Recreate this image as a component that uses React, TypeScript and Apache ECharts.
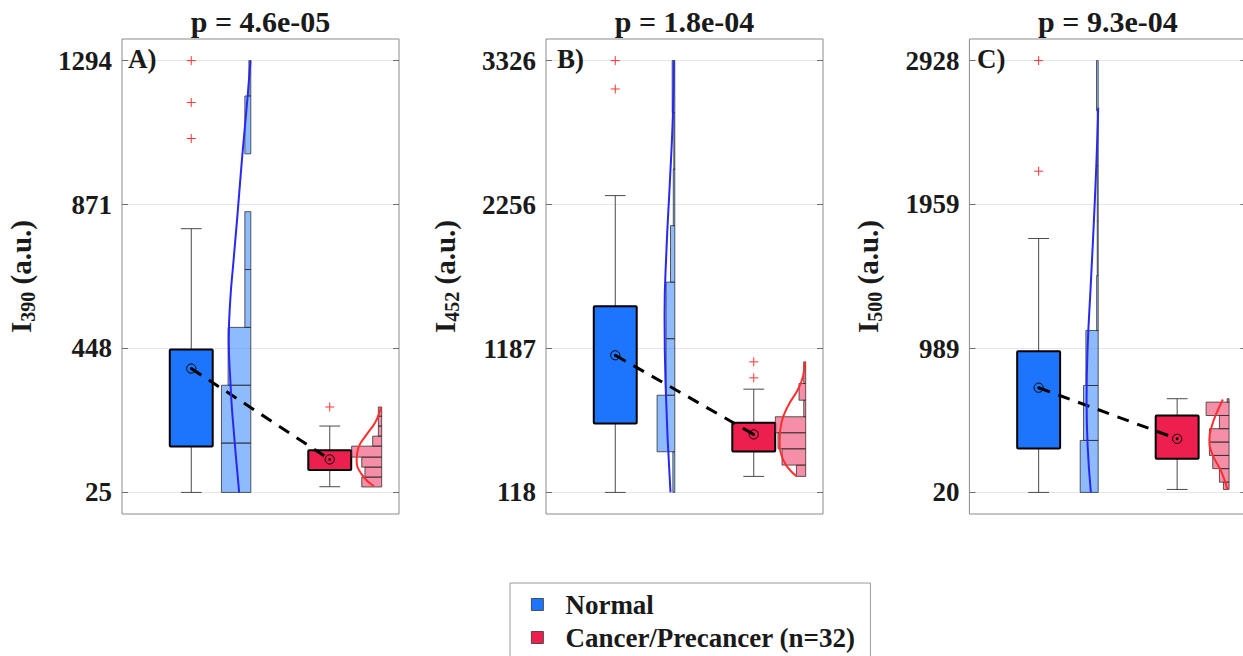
import React, { useEffect, useRef } from 'react';
import * as echarts from 'echarts';

const FONT = '"Liberation Serif", "Times New Roman", Times, serif';

// ---------- data ----------
const groupNames = ['Normal', 'Cancer/Precancer (n=32)'];
const panelLetters = ['A)', 'B)', 'C)'];
const pTitles = ['p = 4.6e-05', 'p = 1.8e-04', 'p = 9.3e-04'];
const wavelengthSubs = ['390', '452', '500'];

const ticksA = [25, 448, 871, 1294];
const ticksB = [118, 1187, 2256, 3326];
const ticksC = [20, 989, 1959, 2928];

// [lower whisker, q1, q3, upper whisker]
const normalStatsA = [25, 160, 445, 800];
const cancerStatsA = [41.7, 90.5, 149, 220];
const normalStatsB = [118, 630, 1501, 2323];
const cancerStatsB = [237, 422, 635, 885];
const normalStatsC = [20, 316, 971, 1730];
const cancerStatsC = [40, 247, 538, 651];

const normalMeans = [389, 1137, 725];
const cancerMeans = [122, 549, 381];

const normalOutliersA = [1065, 1171, 1294];
const cancerOutliersA = [276];
const normalOutliersB = [3115, 3326];
const cancerOutliersB = [969, 1088];
const normalOutliersC = [2183, 2928];
const cancerOutliersC: number[] = [];

// histograms: bin edges (value) and bar lengths (x-axis units)
const normalHistEdgesA = [25, 170, 340, 510, 680, 850, 1020, 1190, 1294];
const normalHistWidthsA = [0.212, 0.212, 0.164, 0.043, 0.043, 0, 0.043, 0.014];
const cancerHistEdgesA = [41, 70, 99.3, 128.7, 161, 190.4, 220, 249, 276];
const cancerHistWidthsA = [0.144, 0.121, 0.144, 0.217, 0.065, 0.024, 0.024, 0.024];
const normalHistEdgesB = [118, 420, 840, 1260, 1680, 2100, 2520, 2940, 3326];
const normalHistWidthsB = [0.014, 0.128, 0.063, 0.063, 0.031, 0.011, 0.007, 0.019];
const cancerHistEdgesB = [237, 321, 442, 561, 680, 803, 927, 1051, 1088];
const cancerHistWidthsB = [0.067, 0.171, 0.2, 0.219, 0.014, 0.048, 0.014, 0.014];
const normalHistEdgesC = [20, 370, 740, 1110, 1480, 1850, 2220, 2590, 2928];
const normalHistWidthsC = [0.13, 0.106, 0.089, 0.011, 0.007, 0.007, 0.007, 0.012];
const cancerHistEdgesC = [40, 89, 180, 269, 359, 449, 538, 628, 651];
const cancerHistWidthsC = [0.041, 0.07, 0.118, 0.142, 0.142, 0.07, 0.166, 0.014];

// density curves: value and curve extent (x-axis units)
const normalCurveValsA = [25, 249, 348, 474, 592, 700, 837, 1003, 1179, 1294];
const normalCurveWidthsA = [0.084, 0.132, 0.147, 0.159, 0.148, 0.126, 0.097, 0.064, 0.025, 0.002];
const cancerCurveValsA = [43.5, 77.9, 122, 156.3, 195.4, 229.7, 259, 275.6];
const cancerCurveWidthsA = [0.056, 0.144, 0.181, 0.168, 0.108, 0.048, 0.017, 0.005];
const normalCurveValsB = [118, 932, 1427, 1922, 2417, 2912, 3326];
const normalCurveWidthsB = [0.031, 0.067, 0.074, 0.06, 0.036, 0.014, 0.007];
const cancerCurveValsB = [239, 363, 511, 635, 759, 883, 981, 1085];
const cancerCurveWidthsB = [0.067, 0.164, 0.188, 0.175, 0.128, 0.056, 0.019, 0.007];
const normalCurveValsC = [20, 646, 983, 1433, 1992, 2443, 2611];
const normalCurveWidthsC = [0.053, 0.084, 0.077, 0.053, 0.024, 0.005, 0];
const cancerCurveValsC = [40, 153, 287, 377, 466, 557, 646];
const cancerCurveWidthsC = [0.012, 0.053, 0.125, 0.142, 0.125, 0.089, 0.045];

// ---------- styling / layout ----------
const BLUE = '#1e75fd';
const RED = '#ec1f4f';
const BLUE_HIST = 'rgba(30,117,253,0.5)';
const RED_HIST = 'rgba(236,31,79,0.5)';
const BLUE_LINE = '#2828f0';
const RED_LINE = '#ff2e2e';
const GRID_LEFTS = [122, 546, 969.4];
const LETTER_X = [128, 557, 977];
const GRID_TOP = 39;
const GRID_W = 277;
const GRID_H = 475;
const BOX_HALF = 0.155;
const CAP_HALF = 0.075;
const NORMAL_HIST_OFF = 0.43;
const CANCER_HIST_OFF = 0.375;

const panels = [
  {
    ticks: ticksA, nStats: normalStatsA, cStats: cancerStatsA, nOut: normalOutliersA, cOut: cancerOutliersA,
    nEdges: normalHistEdgesA, nW: normalHistWidthsA, cEdges: cancerHistEdgesA, cW: cancerHistWidthsA,
    nCv: normalCurveValsA, nCw: normalCurveWidthsA, cCv: cancerCurveValsA, cCw: cancerCurveWidthsA,
  },
  {
    ticks: ticksB, nStats: normalStatsB, cStats: cancerStatsB, nOut: normalOutliersB, cOut: cancerOutliersB,
    nEdges: normalHistEdgesB, nW: normalHistWidthsB, cEdges: cancerHistEdgesB, cW: cancerHistWidthsB,
    nCv: normalCurveValsB, nCw: normalCurveWidthsB, cCv: cancerCurveValsB, cCw: cancerCurveWidthsB,
  },
  {
    ticks: ticksC, nStats: normalStatsC, cStats: cancerStatsC, nOut: normalOutliersC, cOut: cancerOutliersC,
    nEdges: normalHistEdgesC, nW: normalHistWidthsC, cEdges: cancerHistEdgesC, cW: cancerHistWidthsC,
    nCv: normalCurveValsC, nCw: normalCurveWidthsC, cCv: cancerCurveValsC, cCw: cancerCurveWidthsC,
  },
];

const makeBoxRender = (fill: string) => (_params: any, api: any) => {
  const x = api.value(0);
  const lo = api.value(1), q1 = api.value(2), q3 = api.value(3), hi = api.value(4);
  const pLo = api.coord([x, lo]);
  const pHi = api.coord([x, hi]);
  const pTL = api.coord([x - BOX_HALF, q3]);
  const pBR = api.coord([x + BOX_HALF, q1]);
  const capL = api.coord([x - CAP_HALF, lo])[0];
  const capR = api.coord([x + CAP_HALF, lo])[0];
  const ws = { stroke: '#4a4a4a', lineWidth: 1 };
  return {
    type: 'group',
    children: [
      { type: 'line', shape: { x1: pLo[0], y1: pLo[1], x2: pLo[0], y2: pBR[1] }, style: ws },
      { type: 'line', shape: { x1: pHi[0], y1: pTL[1], x2: pHi[0], y2: pHi[1] }, style: ws },
      { type: 'line', shape: { x1: capL, y1: pLo[1], x2: capR, y2: pLo[1] }, style: ws },
      { type: 'line', shape: { x1: capL, y1: pHi[1], x2: capR, y2: pHi[1] }, style: ws },
      {
        type: 'rect',
        shape: { x: pTL[0], y: pTL[1], width: pBR[0] - pTL[0], height: pBR[1] - pTL[1], r: 1 },
        style: { fill, stroke: '#000', lineWidth: 2 },
      },
    ],
  };
};

const makeHistRender = (fill: string) => (_params: any, api: any) => {
  const base = api.value(0), y0 = api.value(1), y1 = api.value(2), w = api.value(3);
  if (!(w > 0)) return { type: 'group', children: [] };
  const pB = api.coord([base, y0]);
  const pT = api.coord([base - w, y1]);
  return {
    type: 'rect',
    shape: { x: pT[0], y: pT[1], width: pB[0] - pT[0], height: pB[1] - pT[1] },
    style: { fill, stroke: 'rgba(40,40,40,0.75)', lineWidth: 1 },
  };
};

const outlierRender = (_params: any, api: any) => {
  const p = api.coord([api.value(0), api.value(1)]);
  const s = 4.5;
  const st = { stroke: '#ff3333', lineWidth: 1 };
  return {
    type: 'group',
    children: [
      { type: 'line', shape: { x1: p[0] - s, y1: p[1], x2: p[0] + s, y2: p[1] }, style: st },
      { type: 'line', shape: { x1: p[0], y1: p[1] - s, x2: p[0], y2: p[1] + s }, style: st },
    ],
  };
};

const meanRender = (_params: any, api: any) => {
  const p = api.coord([api.value(0), api.value(1)]);
  return {
    type: 'group',
    children: [
      { type: 'circle', shape: { cx: p[0], cy: p[1], r: 4.6 }, style: { fill: 'none', stroke: '#000', lineWidth: 1 } },
      { type: 'circle', shape: { cx: p[0], cy: p[1], r: 1.4 }, style: { fill: '#000' } },
    ],
  };
};

function buildOption() {
  const grid: any[] = [];
  const xAxis: any[] = [];
  const yAxis: any[] = [];
  const series: any[] = [];
  const graphic: any[] = [];

  panels.forEach((p, i) => {
    const tmin = p.ticks[0];
    const tmax = p.ticks[p.ticks.length - 1];
    const pad = (tmax - tmin) * 0.05;
    grid.push({
      left: GRID_LEFTS[i], top: GRID_TOP, width: GRID_W, height: GRID_H,
      show: true, borderColor: '#8a8a8a', borderWidth: 1, backgroundColor: 'transparent',
    });
    xAxis.push({
      type: 'value', gridIndex: i, min: 0.5, max: 2.5, show: false,
    });
    const common = {
      type: 'value', gridIndex: i, min: tmin - pad, max: tmax + pad,
      axisLine: { show: false },
    };
    yAxis.push({
      ...common,
      position: 'left',
      name: `{m|I}{s|${wavelengthSubs[i]}}{m| (a.u.)}`,
      nameLocation: 'middle',
      nameRotate: 90,
      nameGap: 84,
      nameTextStyle: {
        rich: {
          m: { fontFamily: FONT, fontSize: 29, fontWeight: 'bold', color: '#1a1a1a', verticalAlign: 'bottom', padding: [0, 0, 3, 0] },
          s: { fontFamily: FONT, fontSize: 20, fontWeight: 'bold', color: '#1a1a1a', verticalAlign: 'bottom' },
        },
      },
      axisTick: { show: true, inside: true, length: 6, customValues: p.ticks, lineStyle: { color: '#6e6e6e' } },
      axisLabel: {
        customValues: p.ticks, margin: 10, formatter: (v: number) => String(v),
        fontFamily: FONT, fontSize: 27, fontWeight: 'bold', color: '#1a1a1a',
      },
      splitLine: { show: true, lineStyle: { color: '#e6e6e6', width: 1 } },
    });
    yAxis.push({
      ...common,
      position: 'right',
      axisTick: { show: true, inside: true, length: 6, customValues: p.ticks, lineStyle: { color: '#6e6e6e' } },
      axisLabel: { show: false },
      splitLine: { show: false },
    });
    const xi = i;
    const yi = 2 * i;
    const base = { xAxisIndex: xi, yAxisIndex: yi };

    series.push({
      ...base, type: 'custom', name: groupNames[0], itemStyle: { color: BLUE },
      renderItem: makeBoxRender(BLUE), data: [[1, ...p.nStats]],
    });
    series.push({
      ...base, type: 'custom', name: groupNames[1], itemStyle: { color: RED },
      renderItem: makeBoxRender(RED), data: [[2, ...p.cStats]],
    });
    series.push({
      ...base, type: 'line', name: 'mean trend', symbol: 'none',
      lineStyle: { color: '#000', width: 3, type: [12, 9] },
      data: [[1, normalMeans[i]], [2, cancerMeans[i]]],
    });
    series.push({
      ...base, type: 'custom', name: 'normal histogram', renderItem: makeHistRender(BLUE_HIST),
      data: p.nW.map((w, k) => [1 + NORMAL_HIST_OFF, p.nEdges[k], p.nEdges[k + 1], w]),
    });
    series.push({
      ...base, type: 'custom', name: 'cancer histogram', renderItem: makeHistRender(RED_HIST),
      data: p.cW.map((w, k) => [2 + CANCER_HIST_OFF, p.cEdges[k], p.cEdges[k + 1], w]),
    });
    series.push({
      ...base, type: 'line', name: 'normal density', symbol: 'none', smooth: 0.5,
      lineStyle: { color: BLUE_LINE, width: 2 },
      data: p.nCv.map((v, k) => [1 + NORMAL_HIST_OFF - p.nCw[k], v]),
    });
    series.push({
      ...base, type: 'line', name: 'cancer density', symbol: 'none', smooth: 0.5,
      lineStyle: { color: RED_LINE, width: 2 },
      data: p.cCv.map((v, k) => [2 + CANCER_HIST_OFF - p.cCw[k], v]),
    });
    series.push({
      ...base, type: 'custom', name: 'outliers', renderItem: outlierRender,
      data: [...p.nOut.map((v) => [1, v]), ...p.cOut.map((v) => [2, v])],
    });
    series.push({
      ...base, type: 'custom', name: 'means', renderItem: meanRender,
      data: [[1, normalMeans[i]], [2, cancerMeans[i]]],
    });

    graphic.push({
      type: 'text', x: GRID_LEFTS[i] + GRID_W / 2, y: 21.5, z: 10,
      style: { text: pTitles[i], font: `bold 30px ${FONT}`, fill: '#1a1a1a', align: 'center', verticalAlign: 'middle' },
    });
    graphic.push({
      type: 'text', x: LETTER_X[i], y: 59, z: 10,
      style: { text: panelLetters[i], font: `bold 27px ${FONT}`, fill: '#1a1a1a', align: 'left', verticalAlign: 'middle' },
    });
  });

  return {
    animation: false,
    backgroundColor: '#ffffff',
    grid,
    xAxis,
    yAxis,
    series,
    graphic,
    legend: {
      left: 510, top: 583, orient: 'vertical', selectedMode: false,
      itemWidth: 12, itemHeight: 12, itemGap: 6,
      padding: [8, 15, 40, 21],
      borderColor: '#9a9a9a', borderWidth: 1, backgroundColor: '#fff',
      textStyle: { fontFamily: FONT, fontSize: 27, fontWeight: 'bold', color: '#1a1a1a', padding: [0, 0, 0, 17] },
      data: [
        { name: groupNames[0], icon: 'rect', itemStyle: { color: BLUE, borderColor: '#333', borderWidth: 0.8 } },
        { name: groupNames[1], icon: 'rect', itemStyle: { color: RED, borderColor: '#333', borderWidth: 0.8 } },
      ],
    },
  };
}

export default function App() {
  const ref = useRef<HTMLDivElement>(null);
  useEffect(() => {
    if (!ref.current) return;
    const chart = echarts.init(ref.current, null, { renderer: 'svg' });
    chart.setOption(buildOption() as any);
    return () => chart.dispose();
  }, []);
  return (
    <div style={{ position: 'fixed', left: 0, top: 0, width: 1243, height: 656, overflow: 'hidden', background: '#fff' }}>
      <div ref={ref} style={{ width: 1290, height: 700 }} />
    </div>
  );
}
